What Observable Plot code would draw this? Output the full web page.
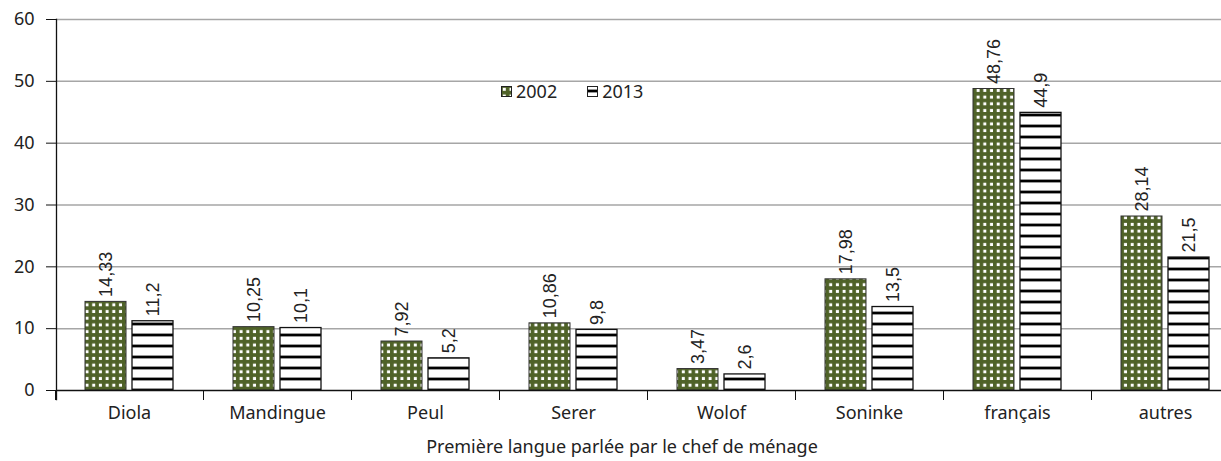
<!DOCTYPE html>
<html><head><meta charset="utf-8">
<script src="https://cdn.jsdelivr.net/npm/d3@7"></script>
<script src="https://cdn.jsdelivr.net/npm/@observablehq/plot@0.6"></script>
<style>
body{margin:0;background:#fff;}
#wrap{position:relative;width:1221px;height:461px;overflow:hidden;}
#legend{position:absolute;top:79px;left:501px;display:flex;align-items:center;font-family:"Noto Sans",sans-serif;font-size:18px;color:#222;}
#legend .item{display:flex;align-items:center;margin-right:30px;}
#legend svg{margin-right:4px;}
</style></head><body>
<svg width="0" height="0" style="position:absolute">
<defs>
<pattern id="dots" patternUnits="userSpaceOnUse" width="6.7" height="6.7">
<rect width="6.7" height="6.7" fill="#4f6228"/>
<rect x="1.8" y="1.8" width="3" height="3" fill="#fff"/>
</pattern>
<pattern id="stripes" patternUnits="userSpaceOnUse" width="11" height="11">
<rect width="11" height="11" fill="#fff"/>
<rect y="3.6" width="11" height="2.8" fill="#000"/>
</pattern>
</defs></svg>
<div id="wrap"></div>
<script>
const categories = ["Diola","Mandingue","Peul","Serer","Wolof","Soninke","français","autres"];
const years = ["2002","2013"];
const values2002 = [14.33,10.25,7.92,10.86,3.47,17.98,48.76,28.14];
const values2013 = [11.2,10.1,5.2,9.8,2.6,13.5,44.9,21.5];
const yTicks = [0,10,20,30,40,50,60];
const xTitle = "Première langue parlée par le chef de ménage";

const d2002 = categories.map((c,i)=>({cat:c, year:years[0], v:values2002[i]}));
const d2013 = categories.map((c,i)=>({cat:c, year:years[1], v:values2013[i]}));
const fmt = d => String(d.v).replace(".", ",");

const bw = 53.5, off = 23.5;
const labelFont = {fontFamily:"Liberation Sans, Arial, sans-serif", fontSize:18, fill:"#222"};

const chart = Plot.plot({
  width:1221, height:461,
  marginLeft:56, marginRight:0, marginTop:19, marginBottom:71,
  style:{fontFamily:"Noto Sans, sans-serif", fontSize:"18px", color:"#222", background:"#fff", overflow:"hidden"},
  x:{domain:categories, range:[55,1239], padding:0, label:null},
  y:{domain:[0,60], range:[390,19], label:null},
  marks:[
    Plot.gridY(yTicks.filter(t=>t>0), {stroke:"#a6a6a6", strokeOpacity:1, strokeWidth:1.5}),
    Plot.barY(d2002, {x:"cat", y:"v", dx:-off, insetLeft:bw, insetRight:bw, fill:"url(#dots)", stroke:"#333", strokeWidth:1}),
    Plot.barY(d2013, {x:"cat", y:"v", dx:off, insetLeft:bw, insetRight:bw, fill:"url(#stripes)", stroke:"#111", strokeWidth:1.3}),
    Plot.text(d2002, {x:"cat", y:"v", dx:-off, dy:-5, text:fmt, rotate:-90, textAnchor:"start", lineAnchor:"middle", ...labelFont}),
    Plot.text(d2013, {x:"cat", y:"v", dx:off, dy:-5, text:fmt, rotate:-90, textAnchor:"start", lineAnchor:"middle", ...labelFont}),
    Plot.ruleY([0], {stroke:"#111", strokeWidth:1.3}),
    Plot.frame({anchor:"left", stroke:"#111", strokeWidth:1.3, insetBottom:-9}),
    Plot.axisY({ticks:yTicks, tickSize:10, tickPadding:12, fontSize:18, stroke:"#111", label:null}),
    Plot.axisX({tickSize:10, dx:-74, text:null, stroke:"#111", label:null}),
    Plot.axisX({tickSize:0, tickPadding:16, fontSize:18, label:null}),
    Plot.text([xTitle], {frameAnchor:"bottom", dy:62, dx:-17, fontSize:18, fill:"#222"})
  ]
});
const wrap = document.getElementById("wrap");
wrap.appendChild(chart);
const legend = document.createElement("div");
legend.id = "legend";
legend.innerHTML = years.map((y,i)=>`<div class="item"><svg width="11" height="11"><rect x="0.5" y="0.5" width="10" height="10" fill="${i===0?"url(#dots)":"url(#stripes)"}" stroke="#222"/></svg><span>${y}</span></div>`).join("");
wrap.appendChild(legend);
</script>
</body></html>
